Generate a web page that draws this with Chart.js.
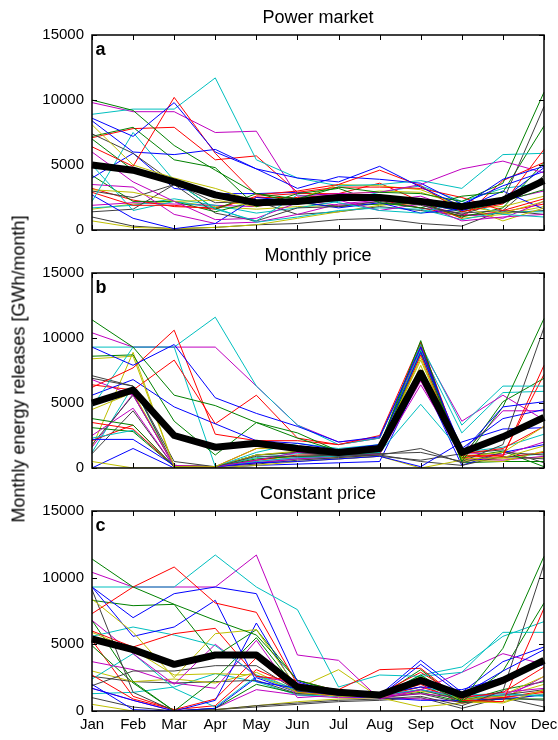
<!DOCTYPE html>
<html><head><meta charset="utf-8">
<script src="https://cdn.jsdelivr.net/npm/chart.js@4"></script>
<style>
html,body{margin:0;padding:0;background:#fff;}
#wrap{position:relative;width:558px;height:740px;overflow:hidden;font-family:"Liberation Sans",Arial,sans-serif;}
canvas{position:absolute;left:0;}
#ylab{position:absolute;left:19px;top:369px;transform:translate(-50%,-50%) rotate(-90deg);white-space:nowrap;font-size:18px;color:#000;}
</style></head><body>
<div id="wrap">
<canvas id="ca" style="top:0px;width:558px;height:240px" width="558" height="240"></canvas>
<canvas id="cb" style="top:240px;width:558px;height:235px" width="558" height="235"></canvas>
<canvas id="cc" style="top:475px;width:558px;height:265px" width="558" height="265"></canvas>
<div id="ylab">Monthly energy releases [GWh/month]</div>
</div>
<script>
const months = ['Jan','Feb','Mar','Apr','May','Jun','Jul','Aug','Sep','Oct','Nov','Dec'];
const yTicks = [0, 5000, 10000, 15000];
const panelTitles = ['Power market', 'Monthly price', 'Constant price'];
const panelLetters = ['a', 'b', 'c'];

// Panel a: Power market (one row per reservoir)
const powerMarket = [
  [8600, 7200, 9800, 6000, 4700, 4000, 3700, 4900, 3300, 1800, 3900, 4900],
  [10000, 9200, 6500, 4600, 2800, 2400, 3300, 2900, 2800, 2200, 3600, 10600],
  [6400, 4900, 10200, 5900, 2700, 3000, 3500, 4600, 3400, 1400, 2000, 6200],
  [8900, 9300, 9300, 11700, 5400, 4000, 3400, 3500, 3800, 3200, 5800, 5900],
  [9800, 9100, 9100, 7500, 7600, 2600, 2800, 2900, 3500, 4700, 5300, 4400],
  [8100, 5000, 4000, 3200, 2200, 2100, 2700, 3000, 2900, 1900, 1300, 2200],
  [7400, 5900, 3600, 2100, 2200, 2300, 2400, 2300, 1900, 1200, 2200, 9500],
  [8400, 6000, 5800, 6200, 4700, 3200, 4100, 3900, 3600, 2000, 3400, 4500],
  [7200, 7900, 5400, 4800, 1800, 2800, 3200, 2100, 1700, 2600, 2900, 8000],
  [7100, 7800, 7900, 5400, 5700, 2900, 3300, 3300, 3200, 2500, 1500, 2400],
  [2200, 7500, 3800, 1600, 700, 2700, 2100, 1500, 1300, 2200, 1200, 1000],
  [6000, 3700, 2200, 800, 900, 2100, 2300, 1500, 2000, 700, 1000, 1200],
  [3100, 2900, 2200, 2300, 1800, 2400, 3500, 3400, 3100, 1900, 700, 1700],
  [3000, 2500, 3500, 1300, 700, 1700, 1800, 2200, 1700, 1300, 1500, 1200],
  [2700, 900, 100, 500, 2500, 2200, 1700, 2100, 1300, 1600, 3000, 1600],
  [7000, 4600, 3800, 1600, 2800, 2100, 1800, 2000, 2100, 1000, 1700, 5200],
  [2900, 1900, 1900, 1600, 2600, 2800, 2800, 3600, 2200, 900, 3800, 5200],
  [5000, 1500, 2200, 1700, 600, 1000, 1500, 1700, 1600, 800, 1400, 1400],
  [3500, 3300, 1200, 500, 600, 1200, 2000, 2300, 2000, 1200, 900, 2200],
  [700, 200, 100, 200, 400, 900, 1400, 1900, 2100, 900, 1200, 1800],
  [1400, 1600, 3500, 2600, 2200, 1200, 1400, 1800, 1500, 1100, 1300, 1500],
  [4000, 5900, 3200, 2800, 2800, 2900, 2600, 2700, 2000, 1500, 2400, 4800],
  [4200, 2200, 2200, 1400, 2200, 2300, 2500, 2400, 2100, 1400, 2200, 3100],
  [3200, 2300, 1800, 1700, 2500, 2500, 2700, 2300, 1700, 1100, 1400, 2000],
  [1700, 1900, 2400, 1900, 1300, 1700, 2200, 2900, 3400, 2200, 3200, 3600],
  [1900, 2100, 2000, 1900, 1800, 2300, 1900, 2200, 2600, 1500, 2300, 3000],
  [1600, 2000, 2200, 1800, 1600, 1800, 1900, 2000, 2000, 1700, 1800, 2600],
  [1000, 300, 100, 200, 400, 500, 800, 900, 500, 300, 1500, 4200]
];
const powerMarketMean = [5000, 4600, 3700, 2700, 2100, 2200, 2500, 2500, 2200, 1800, 2300, 3800];

// Panel b: Monthly price
const monthlyPrice = [
  [9300, 7900, 9500, 5400, 4200, 3200, 2000, 2400, 9300, 1200, 4700, 5100],
  [11400, 9300, 5600, 4800, 3500, 2300, 1300, 1700, 9800, 500, 4700, 11500],
  [6200, 7700, 10600, 2600, 2100, 2100, 1800, 2500, 9700, 1000, 900, 7900],
  [4700, 9300, 9300, 11600, 6300, 3300, 1800, 2300, 9500, 3300, 6300, 6300],
  [10400, 9300, 9300, 9300, 6300, 3300, 2000, 2300, 9300, 3600, 5600, 3700],
  [8400, 8600, 100, 100, 1500, 1600, 1200, 1400, 8500, 700, 800, 1700],
  [7100, 6300, 500, 100, 900, 900, 1000, 1100, 1200, 500, 1800, 10800],
  [5600, 6800, 4700, 3400, 2100, 1900, 1400, 1800, 8900, 1500, 3800, 4500],
  [8600, 8700, 3600, 1000, 3500, 2700, 1300, 1600, 9600, 700, 5100, 6900],
  [6400, 6000, 8300, 3400, 5600, 2300, 1800, 2300, 9400, 800, 1000, 7200],
  [9300, 9300, 9300, 100, 1200, 1900, 1500, 1800, 9100, 2700, 5800, 5900],
  [6800, 5600, 200, 100, 600, 1200, 1100, 1600, 6800, 1000, 4400, 4400],
  [4500, 5800, 200, 100, 1000, 1300, 1100, 1600, 8300, 900, 1200, 3200],
  [6900, 6300, 200, 100, 1000, 1200, 900, 1000, 1500, 400, 1200, 1000],
  [2200, 2200, 200, 100, 400, 500, 700, 900, 100, 2000, 3000, 3100],
  [3800, 3300, 100, 100, 1000, 1200, 1000, 1300, 9000, 800, 1300, 100],
  [3500, 3000, 100, 100, 1500, 1700, 1300, 1700, 9200, 1100, 1500, 3200],
  [2300, 2900, 200, 100, 500, 800, 900, 1200, 4900, 1200, 1600, 2600],
  [2500, 4600, 100, 100, 400, 700, 900, 1100, 6400, 1200, 1000, 2000],
  [500, 0, 0, 0, 200, 500, 700, 900, 0, 600, 500, 1300],
  [1800, 5600, 200, 100, 300, 600, 800, 1000, 500, 200, 900, 700],
  [0, 1500, 0, 0, 200, 300, 400, 500, 7000, 200, 1200, 1800],
  [3100, 2800, 100, 100, 700, 900, 900, 1200, 9400, 400, 500, 500],
  [2100, 3300, 100, 100, 600, 1000, 1000, 1300, 8700, 700, 800, 1200],
  [1200, 6300, 100, 100, 800, 1100, 1000, 1200, 8800, 700, 800, 1100],
  [1600, 5700, 100, 100, 500, 800, 900, 1100, 6700, 700, 600, 900],
  [1600, 8900, 100, 100, 600, 900, 800, 1000, 7900, 500, 700, 800],
  [1100, 4400, 100, 100, 400, 700, 700, 900, 600, 1100, 1400, 400]
];
const monthlyPriceMean = [5000, 6000, 2500, 1600, 1900, 1500, 1200, 1500, 7300, 1200, 2400, 3900];

// Panel c: Constant price
const constantPrice = [
  [9300, 7000, 8800, 9300, 8800, 2200, 1300, 1100, 3500, 1200, 3000, 4600],
  [11400, 9300, 8000, 6800, 5700, 2300, 1500, 1100, 2700, 800, 4700, 11600],
  [7300, 9300, 10800, 8100, 7400, 2000, 1600, 3100, 3200, 800, 700, 7700],
  [9300, 9300, 9300, 11700, 9300, 7600, 1800, 2700, 2600, 2900, 5900, 5900],
  [10400, 9300, 9300, 9300, 11700, 4200, 3800, 900, 1600, 2900, 4300, 3500],
  [8400, 5900, 2500, 5800, 6100, 1700, 3100, 1000, 2600, 800, 600, 1600],
  [9100, 1400, 0, 100, 400, 600, 800, 900, 1100, 400, 1500, 11000],
  [9300, 5600, 6300, 8300, 2200, 1700, 1200, 1200, 3800, 1400, 3700, 4800],
  [8300, 7900, 8000, 4100, 6100, 2300, 1400, 1200, 2200, 700, 3000, 8100],
  [6000, 4800, 5800, 6200, 2600, 2300, 1500, 1300, 2900, 1000, 1400, 3300],
  [5600, 6300, 5700, 4900, 2700, 1600, 1300, 1200, 1600, 1000, 1200, 1200],
  [6800, 4300, 2000, 5000, 2600, 2100, 1300, 1100, 1600, 1100, 1200, 2300],
  [5900, 4600, 2700, 2800, 2700, 1400, 1100, 1100, 2300, 800, 1200, 2600],
  [1900, 3000, 3000, 3400, 3400, 1500, 1300, 1100, 1600, 800, 1200, 1600],
  [2000, 100, 0, 800, 6600, 1500, 1200, 1300, 1800, 1600, 2500, 3500],
  [6800, 2200, 0, 2400, 5500, 1600, 1300, 1100, 3100, 700, 1600, 2200],
  [2700, 900, 100, 900, 4000, 1400, 1200, 1100, 1800, 900, 1000, 1400],
  [2400, 4300, 1700, 300, 2600, 1500, 1300, 1200, 1800, 1200, 1300, 1100],
  [3700, 3100, 2100, 1700, 5300, 1000, 1200, 1100, 1300, 1000, 1400, 1700],
  [3000, 2200, 2400, 2100, 2900, 1500, 1200, 1000, 1500, 1000, 1100, 2000],
  [2600, 2200, 2100, 2200, 2300, 1300, 1200, 1000, 1300, 600, 1000, 800],
  [1700, 800, 0, 200, 2500, 1400, 1100, 1000, 800, 800, 900, 1200],
  [4900, 2100, 0, 200, 2000, 1300, 1200, 1000, 1400, 700, 900, 900],
  [5300, 1100, 100, 400, 3100, 1800, 1300, 1100, 2000, 600, 1000, 1500],
  [1300, 1400, 1800, 2800, 2200, 1200, 1100, 1100, 2700, 3300, 5600, 6700],
  [1700, 800, 0, 200, 1600, 1200, 1000, 1000, 900, 700, 900, 2600],
  [500, 0, 0, 100, 400, 700, 900, 1000, 300, 600, 700, 1300],
  [1000, 300, 0, 100, 300, 500, 700, 800, 1000, 200, 1000, 300]
];
const constantPriceMean = [5400, 4600, 3500, 4200, 4200, 1800, 1400, 1200, 2300, 1200, 2300, 3800];

const palette = ['rgb(0,0,255)','rgb(0,128,0)','rgb(255,0,0)','rgb(0,191,191)','rgb(191,0,191)','rgb(191,191,0)','rgb(64,64,64)'];
const FONT = '"Liberation Sans", Arial, Helvetica, sans-serif';

const framePlugin = {
  id: 'frame',
  afterDatasetsDraw(chart, args, opts) {
    const ctx = chart.ctx, a = chart.chartArea, x = chart.scales.x, y = chart.scales.y;
    ctx.save();
    ctx.strokeStyle = '#000';
    ctx.lineWidth = 1;
    ctx.beginPath();
    months.forEach((m, i) => {
      const px = Math.round(x.getPixelForValue(i)) + 0.5;
      ctx.moveTo(px, a.bottom); ctx.lineTo(px, a.bottom - 5);
      ctx.moveTo(px, a.top); ctx.lineTo(px, a.top + 5);
    });
    yTicks.forEach(v => {
      const py = Math.round(y.getPixelForValue(v)) + 0.5;
      ctx.moveTo(a.left, py); ctx.lineTo(a.left + 5, py);
      ctx.moveTo(a.right, py); ctx.lineTo(a.right - 5, py);
    });
    ctx.stroke();
    ctx.lineWidth = 1.5;
    ctx.strokeRect(a.left, a.top, a.right - a.left, a.bottom - a.top);
    ctx.fillStyle = '#000';
    ctx.textAlign = 'left';
    ctx.textBaseline = 'alphabetic';
    ctx.font = 'bold 18px ' + FONT;
    ctx.fillText(opts.letter, a.left + 3.5, a.top + 20);
    ctx.textAlign = 'center';
    ctx.font = '18px ' + FONT;
    ctx.fillText(opts.title, (a.left + a.right) / 2, a.top - 12);
    ctx.restore();
  }
};

function makePanel(id, series, mean, idx, padTop, xHeight, showX) {
  const datasets = [{
    data: mean, borderColor: '#000', borderWidth: 7, pointRadius: 0, tension: 0,
    fill: false, borderJoinStyle: 'round', borderCapStyle: 'butt', order: 0
  }];
  series.forEach((s, i) => {
    datasets.push({
      data: s, borderColor: palette[i % palette.length], borderWidth: 1,
      pointRadius: 0, tension: 0, fill: false, order: 1
    });
  });
  new Chart(document.getElementById(id), {
    type: 'line',
    data: { labels: months, datasets },
    options: {
      responsive: false, animation: false, events: [],
      layout: { padding: { top: padTop, right: 14, left: 0, bottom: 0 } },
      plugins: { legend: { display: false }, tooltip: { enabled: false },
        frame: { title: panelTitles[idx], letter: panelLetters[idx] } },
      scales: {
        x: {
          type: 'category', offset: false,
          grid: { display: false, drawTicks: false }, border: { display: false },
          ticks: { display: showX, color: '#000', font: { size: 15, family: FONT },
                   padding: 5, maxRotation: 0, autoSkip: false },
          afterFit(s) { s.height = xHeight; s.paddingLeft = 0; s.paddingRight = 0; }
        },
        y: {
          min: 0, max: 15000,
          grid: { display: false, drawTicks: false }, border: { display: false },
          ticks: { stepSize: 5000, color: '#000', font: { size: 15, family: FONT },
                   padding: 8, callback: v => String(v) },
          afterFit(s) { s.width = 92; s.paddingTop = 0; s.paddingBottom = 0; }
        }
      }
    },
    plugins: [framePlugin]
  });
}

makePanel('ca', powerMarket, powerMarketMean, 0, 35, 10, false);
makePanel('cb', monthlyPrice, monthlyPriceMean, 1, 33, 7, false);
makePanel('cc', constantPrice, constantPriceMean, 2, 36, 29, true);
</script>
</body></html>
